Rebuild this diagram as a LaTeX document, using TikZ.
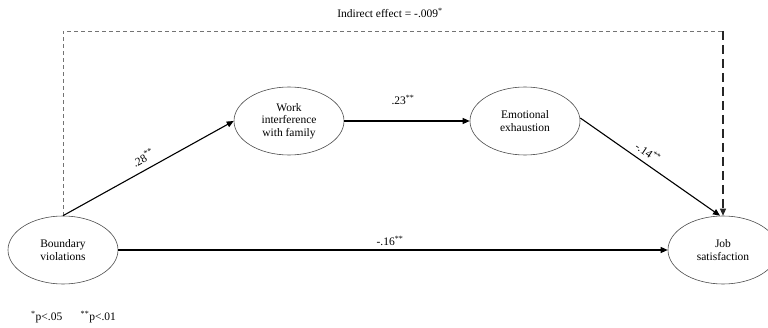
\documentclass[tikz,border=0pt]{standalone}
\usepackage{fontspec}
\setmainfont{Liberation Serif}
\usetikzlibrary{shapes.geometric,arrows.meta}
\begin{document}
\begin{tikzpicture}[x=1pt,y=-1pt,
  every node/.style={font=\fontsize{11.5}{12.5}\selectfont},
  latent/.style={ellipse,draw=black!70,line width=0.6pt,minimum width=110pt,minimum height=68pt,inner sep=0pt,align=center},
  path/.style={draw=black,line width=1.1pt,-{Triangle[length=7pt,width=6pt]}},
  coef/.style={inner sep=1pt},
  dashgray/.style={draw=black!55,line width=0.8pt,dash pattern=on 4pt off 3pt},
  dasharrow/.style={draw=black!85,line width=1.2pt,dash pattern=on 9pt off 5pt,-{Triangle[length=7pt,width=6pt]}}]
\useasboundingbox (0,0) rectangle (768,328);
\node[latent] (bv) at (63,250) {Boundary\\violations};
\node[latent] (wif) at (289,121) {Work\\interference\\with family};
\node[latent] (ee) at (525,121) {Emotional\\exhaustion};
\node[latent] (js) at (723,250) {Job\\satisfaction};
\coordinate (corner) at (js.north |- 0,31);
\draw[dashgray] (bv.north) |- (corner);
\draw[dasharrow] (corner) -- (js.north);
\draw[path] (bv.north) -- (wif.west);
\draw[path] (wif.east) -- (ee.west);
\draw[path] ([yshift=3pt]ee.east) -- ([xshift=-3pt]js.north);
\draw[path] (bv.east) -- (js.west);
\node[coef] (lind) at (390,13) {Indirect effect = -.009\textsuperscript{*}};
\node[coef,rotate=29] (l28) at (143,158) {.28\textsuperscript{**}};
\node[coef] (l23) at (403,100) {.23\textsuperscript{**}};
\node[coef,rotate=-34] (l14) at (648,152) {-.14\textsuperscript{**}};
\node[coef] (l16) at (390,241) {-.16\textsuperscript{**}};
\node[coef,anchor=west] (foot) at (30,317) {\textsuperscript{*}p<.05\hspace{1.6em}\textsuperscript{**}p<.01};
\end{tikzpicture}
\end{document}
